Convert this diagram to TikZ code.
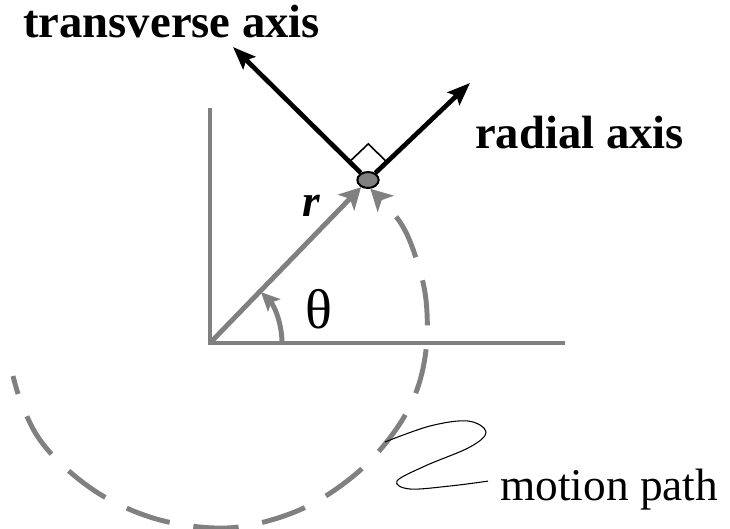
\documentclass[tikz,border=0pt]{standalone}
\usepackage{fontspec}
\setmainfont{Liberation Serif}
\usetikzlibrary{arrows.meta,shapes.geometric,calc}
\begin{document}
\begin{tikzpicture}[x=0.75pt, y=-0.75pt]
\tikzstyle{axisline}=[draw=gray, line width=3.7pt]
\tikzstyle{garrow}=[draw=gray, line width=3.7pt, -{Stealth[length=16pt, width=17pt, inset=4pt]}]
\tikzstyle{barrow}=[draw=black, line width=3.5pt, -{Stealth[length=17pt, width=13pt, inset=3pt]}]
\tikzstyle{lbl}=[font=\fontsize{35}{40}\selectfont\bfseries, inner sep=0]
\tikzstyle{txt}=[font=\fontsize{34}{40}\selectfont, inner sep=0]
\useasboundingbox (0,0) rectangle (730,528);
\coordinate (O) at (210,343);
\coordinate (ytop) at (210,108);
\coordinate (xend) at (565,343);
\coordinate (ttip) at (233,47);
\coordinate (rtip) at (470,83);
\node[ellipse, draw=black, line width=1.5pt, fill=gray, minimum width=16pt, minimum height=12pt, inner sep=0] (mass) at (368,180) {};
\node[lbl, anchor=base west] (tlabel) at (23,38) {transverse axis};
\node[lbl, anchor=base west] (rlabel) at (475,148) {radial axis};
\node[txt, anchor=base west] (mtext) at (500,500) {motion path};
\node[txt, font=\fontsize{42}{48}\selectfont] (theta) at (319,309) {θ};
\node[txt, font=\fontsize{34}{40}\selectfont\bfseries\itshape] (rname) at (311,206) {r};
% axes and position vector
\draw[axisline] (ytop) -- (O) -- (xend);
\draw[garrow] (O) -- (mass);
\draw[garrow, -{Stealth[length=14pt, width=13pt, inset=3pt]}] ([shift={(0:72)}]O) arc[start angle=0, end angle=-45, radius=72];
% dashed motion path
\draw[gray, line width=3.7pt, dash pattern=on 34pt off 18pt, dash phase=20pt, -{Stealth[length=16pt, width=17pt, inset=4pt]}]
  plot[smooth, tension=0.6] coordinates {(13,376) (22,405) (40,440) (70,472) (110,500) (160,520) (215,528) (260,523) (310,505) (357,473) (392,435) (415,395) (426,350) (426,300) (416,258) (400,222) (mass.-75)};
% unit axes
\draw[barrow] (mass) -- (ttip);
\draw[barrow] (mass) -- (rtip);
\draw[line width=1.2pt] ($(mass)!19.5pt!(ttip)$) -- ($(mass)!19.5pt!(ttip)+(mass)!19.5pt!(rtip)-(mass)$) -- ($(mass)!19.5pt!(rtip)$);
% leader to label
\coordinate (mp) at (385,442);
\draw[line width=0.8pt] plot[smooth, tension=0.6] coordinates {(mp) (430,426) (468,421) (486,432) (470,447) (425,466) (397,481) (410,489) (450,486) ([xshift=-9pt, yshift=6pt]mtext.west)};
\end{tikzpicture}
\end{document}
